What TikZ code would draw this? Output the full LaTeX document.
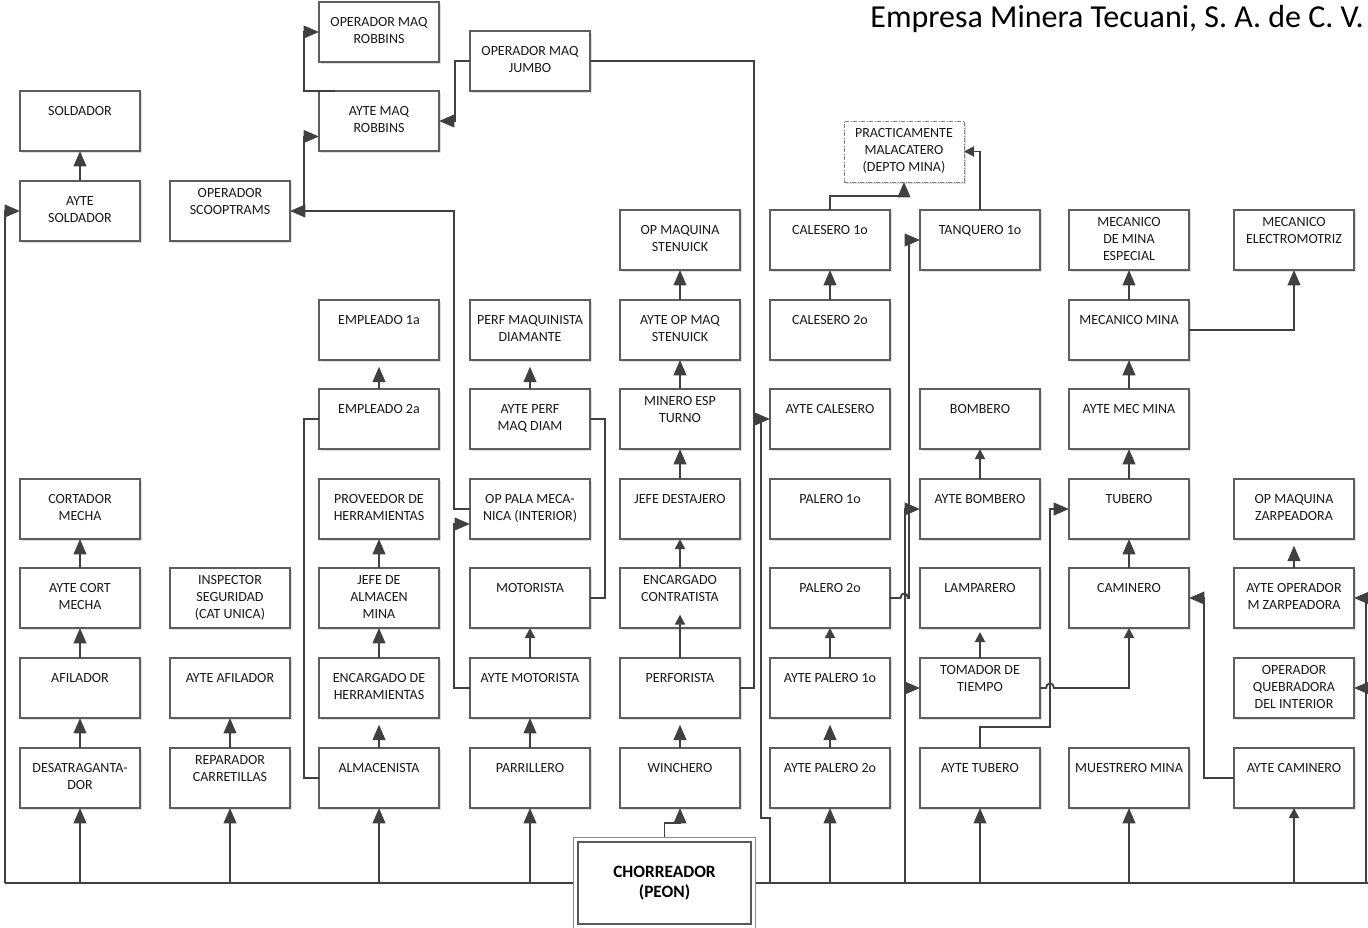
\documentclass[tikz,border=0pt]{standalone}
\usepackage{fontspec}
\setmainfont{Carlito}
\usetikzlibrary{arrows.meta,shadows,calc}
\definecolor{ln}{HTML}{404040}
\definecolor{bd}{HTML}{5E5E5E}
% text layouts inside the job boxes
\newcommand\Lone[1]{\strut #1\\\strut}
\newcommand\Ltwo[2]{\strut #1\\\strut #2}
\newcommand\Ltwotop[2]{\strut #1\\\strut #2\\\strut}
\newcommand\Lthree[3]{\strut #1\\\strut #2\\\strut #3}
\begin{document}
\begin{tikzpicture}[x=0.75pt,y=-0.75pt,
  box/.style={draw=bd, line width=0.85pt, fill=white, minimum width=90pt, minimum height=45pt,
    inner sep=0pt, outer sep=0pt, align=center, anchor=north west,
    font=\fontsize{10.5}{12.75}\selectfont, text=black!90,
    drop shadow={shadow xshift=1.6pt, shadow yshift=-1.6pt, fill=black!13, opacity=1}},
  link/.style={draw=ln, line width=1.4pt},
  big/.style={link, -{Triangle[length=11.5pt,width=9.5pt]}},
  small/.style={link, -{Triangle[length=7.5pt,width=7.5pt]}},
  gap/.style={shorten >=5pt},
]
\useasboundingbox (0,0) rectangle (1368,928);

\node[anchor=base east, font=\fontsize{24}{28}\selectfont, text=black] (title) at (1368.5,27)
  {Empresa Minera Tecuani, S. A. de C. V.};

% ---- top group
\node[box] (opmaqrob)   at (319,2)   {\Ltwo{OPERADOR MAQ}{ROBBINS}};
\node[box] (aytemaqrob) at (319,91)  {\Ltwo{AYTE MAQ}{ROBBINS}};
\node[box] (jumbo)      at (470,31)  {\Ltwo{OPERADOR MAQ}{JUMBO}};
\node[box] (soldador)   at (20,91)   {\Lone{SOLDADOR}};
\node[box] (aytesold)   at (20,181)  {\Ltwo{AYTE}{SOLDADOR}};
\node[box] (scoop)      at (170,181) {\Ltwotop{OPERADOR}{SCOOPTRAMS}};
\node[box, draw=black!50, dash pattern=on 3pt off 1.2pt on 0.6pt off 1.2pt, line width=0.7pt,
      minimum height=45.75pt] (practic) at (844,121) {\Lthree{PRACTICAMENTE}{MALACATERO}{(DEPTO MINA)}};

% ---- row 1
\node[box] (opstenuick) at (620,210)  {\Ltwo{OP MAQUINA}{STENUICK}};
\node[box] (cal1)       at (770,210)  {\Lone{CALESERO 1o}};
\node[box] (tanq)       at (920,210)  {\Lone{TANQUERO 1o}};
\node[box] (mecesp)     at (1069,210) {\Lthree{MECANICO}{DE MINA}{ESPECIAL}};
\node[box] (mecelec)    at (1234,210) {\Ltwotop{MECANICO}{ELECTROMOTRIZ}};

% ---- row 2
\node[box] (emp1)     at (319,300)  {\Lone{EMPLEADO 1a}};
\node[box] (perfmaq)  at (470,300)  {\Ltwo{PERF MAQUINISTA}{DIAMANTE}};
\node[box] (ayteopst) at (620,300)  {\Ltwo{AYTE OP MAQ}{STENUICK}};
\node[box] (cal2)     at (770,300)  {\Lone{CALESERO 2o}};
\node[box] (mecmina)  at (1069,300) {\Lone{MECANICO MINA}};

% ---- row 3
\node[box] (emp2)     at (319,389)  {\Lone{EMPLEADO 2a}};
\node[box] (ayteperf) at (470,389)  {\Ltwo{AYTE PERF}{MAQ DIAM}};
\node[box] (minero)   at (620,389)  {\Ltwotop{MINERO ESP}{TURNO}};
\node[box] (aytecal)  at (770,389)  {\Lone{AYTE CALESERO}};
\node[box] (bombero)  at (920,389)  {\Lone{BOMBERO}};
\node[box] (aytemec)  at (1069,389) {\Lone{AYTE MEC MINA}};

% ---- row 4
\node[box] (cortador)  at (20,479)   {\Ltwo{CORTADOR}{MECHA}};
\node[box] (proveedor) at (319,479)  {\Ltwo{PROVEEDOR DE}{HERRAMIENTAS}};
\node[box] (oppala)    at (470,479)  {\Ltwo{OP PALA MECA-}{NICA (INTERIOR)}};
\node[box] (jefedest)  at (620,479)  {\Lone{JEFE DESTAJERO}};
\node[box] (palero1)   at (770,479)  {\Lone{PALERO 1o}};
\node[box] (aytebomb)  at (920,479)  {\Lone{AYTE BOMBERO}};
\node[box] (tubero)    at (1069,479) {\Lone{TUBERO}};
\node[box] (opzarp)    at (1234,479) {\Ltwo{OP MAQUINA}{ZARPEADORA}};

% ---- row 5
\node[box] (aytecort)   at (20,568)   {\Ltwo{AYTE CORT}{MECHA}};
\node[box] (inspector)  at (170,568)  {\Lthree{INSPECTOR}{SEGURIDAD}{(CAT UNICA)}};
\node[box] (jefealm)    at (319,568)  {\Lthree{JEFE DE}{ALMACEN}{MINA}};
\node[box] (motorista)  at (470,568)  {\Lone{MOTORISTA}};
\node[box] (enccontr)   at (620,568)  {\Ltwotop{ENCARGADO}{CONTRATISTA}};
\node[box] (palero2)    at (770,568)  {\Lone{PALERO 2o}};
\node[box] (lamparero)  at (920,568)  {\Lone{LAMPARERO}};
\node[box] (caminero)   at (1069,568) {\Lone{CAMINERO}};
\node[box] (ayteopzarp) at (1234,568) {\Ltwo{AYTE OPERADOR}{M ZARPEADORA}};

% ---- row 6
\node[box] (afilador)   at (20,658)   {\Lone{AFILADOR}};
\node[box] (ayteafil)   at (170,658)  {\Lone{AYTE AFILADOR}};
\node[box] (encherr)    at (319,658)  {\Ltwo{ENCARGADO DE}{HERRAMIENTAS}};
\node[box] (aytemoto)   at (470,658)  {\Lone{AYTE MOTORISTA}};
\node[box] (perforista) at (620,658)  {\Lone{PERFORISTA}};
\node[box] (aytepal1)   at (770,658)  {\Lone{AYTE PALERO 1o}};
\node[box] (tomador)    at (920,658)  {\Ltwotop{TOMADOR DE}{TIEMPO}};
\node[box] (quebradora) at (1234,658) {\Lthree{OPERADOR}{QUEBRADORA}{DEL INTERIOR}};

% ---- row 7
\node[box] (desatr)      at (20,748)   {\Ltwo{DESATRAGANTA-}{DOR}};
\node[box] (reparador)   at (170,748)  {\Ltwotop{REPARADOR}{CARRETILLAS}};
\node[box] (almacenista) at (319,748)  {\Lone{ALMACENISTA}};
\node[box] (parrillero)  at (470,748)  {\Lone{PARRILLERO}};
\node[box] (winchero)    at (620,748)  {\Lone{WINCHERO}};
\node[box] (aytepal2)    at (770,748)  {\Lone{AYTE PALERO 2o}};
\node[box] (aytetubero)  at (920,748)  {\Lone{AYTE TUBERO}};
\node[box] (muestrero)   at (1069,748) {\Lone{MUESTRERO MINA}};
\node[box] (aytecamin)   at (1234,748) {\Lone{AYTE CAMINERO}};

% ---- base position, framed by a double border
\node[draw=black!65, line width=0.9pt, fill=white,
      minimum width=129.75pt, minimum height=61.5pt, inner sep=0pt, align=center,
      font=\fontsize{13}{15}\selectfont\bfseries] (chorreador) at (664.5,883) {CHORREADOR\\(PEON)};
\draw[black!45, line width=0.75pt] ($(chorreador.north west)+(-4,-4)$) rectangle ($(chorreador.south east)+(4,3.5)$);

% ---- bus along the bottom
\coordinate (bw) at (5,883);
\coordinate (be) at (1368,883);
\coordinate (b6) at (770,883);
\coordinate (b7) at (905,883);
\coordinate (rx) at (1366,883);
\draw[link] ($(chorreador.west)+(-4,0)$) -- (bw);
\draw[link, line width=2.1pt] ($(chorreador.east)+(4,0)$) -- (be);

\draw[big] (bw) |- (aytesold.west);
\draw[big] (desatr.south |- bw) -- (desatr.south);
\draw[big] (reparador.south |- bw) -- (reparador.south);
\draw[big] (almacenista.south |- bw) -- (almacenista.south);
\draw[big] (parrillero.south |- bw) -- (parrillero.south);
\draw[big] (b6) -- (770,818) -- (761,818) |- (aytecal.west);
\draw[big] (aytepal2.south |- bw) -- (aytepal2.south);
\draw[big] (b7) |- (aytebomb.west);
\draw[big] (tomador.west -| b7) -- (tomador.west);
\draw[big] (aytetubero.south |- bw) -- (aytetubero.south);
\draw[big] (muestrero.south |- bw) -- (muestrero.south);
\draw[small] (aytecamin.south |- bw) -- (aytecamin.south);
\draw[big] (rx) |- (ayteopzarp.east);
\draw[big] (quebradora.east -| rx) -- (quebradora.east);
\draw[big] ($(chorreador.north)+(0,-4)$) |- (680,823) -- (winchero.south);

% ---- column 1
\draw[big] (aytesold.north) -- (soldador.south);
\draw[big] (aytecort.north) -- (cortador.south);
\draw[big] (afilador.north) -- (aytecort.south);
\draw[big] (desatr.north) -- (afilador.south);
% ---- column 2
\draw[big] (reparador.north) -- (ayteafil.south);
% ---- column 3
\draw[big, gap] (almacenista.north) -- (encherr.south);
\draw[big] (encherr.north) -- (jefealm.south);
\draw[big] (jefealm.north) -- (proveedor.south);
\draw[big, gap] (emp2.north) -- (emp1.south);
\draw[link] (almacenista.west) -- (304,778) |- (emp2.west);
% ---- column 4
\draw[big] (parrillero.north) -- (aytemoto.south);
\draw[small] (aytemoto.north) -- (motorista.south);
\draw[big, gap] (ayteperf.north) -- (perfmaq.south);
\draw[link] (motorista.east) -- (605,598) |- (ayteperf.east);
\draw[big] (aytemoto.west) -- (454,688) |- ($(oppala.west)+(0,15)$);
\draw[big] (oppala.west) -- (454,509) |- (scoop.east);
\coordinate (sq) at (304,211);
\draw[big] (sq) |- ($(aytemaqrob.west)+(0,15.5)$);
\draw[big] ($(aytemaqrob.north west)+(16,0)$) -- (304,91) |- (opmaqrob.west);
\draw[big] (jumbo.west) -- (455,61) |- (aytemaqrob.east);
% ---- column 5
\draw[big, gap] (winchero.north) -- (perforista.south);
\draw[small, shorten >=-10pt] (perforista.north) -- (enccontr.south);
\draw[small] (enccontr.north) -- (jefedest.south);
\draw[big] (jefedest.north) -- (minero.south);
\draw[big] (minero.north) -- (ayteopst.south);
\draw[big] (ayteopst.north) -- (opstenuick.south);
\draw[link] (perforista.east) -- (754,688) |- (jumbo.east);
% ---- column 6
\draw[big, gap] (aytepal2.north) -- (aytepal1.south);
\draw[small] (aytepal1.north) -- (palero2.south);
\draw[big] (cal2.north) -- (cal1.south);
\draw[big] (cal1.north) |- ($(practic.south)+(0,14)$) -- (practic.south);
\draw[link, -{Triangle[length=11.5pt,width=9.5pt]}] (palero2.east) -- (900.5,598)
  .. controls (900.5,592) and (908,592) .. (908,598) -- (909,598) |- (tanq.west);
% ---- column 7
\draw[small] (aytebomb.north) -- (bombero.south);
\draw[small, shorten >=3pt] (tomador.north) -- (lamparero.south);
\draw[small] (tanq.north) |- (practic.east);
\draw[small] (tomador.east) -- (1046,688) .. controls (1046,682) and (1054,682) .. (1054,688) -| (caminero.south);
\draw[big] (aytetubero.north) |- (1050,727) |- (tubero.west);
% ---- column 8
\draw[big] (caminero.north) -- (tubero.south);
\draw[big] (tubero.north) -- (aytemec.south);
\draw[big] (aytemec.north) -- (mecmina.south);
\draw[big] (mecmina.north) -- (mecesp.south);
\draw[big] (mecmina.east) -| (mecelec.south);
\draw[big] (aytecamin.west) -- (1204,778) |- (caminero.east);
% ---- column 9
\draw[big, gap] (ayteopzarp.north) -- (opzarp.south);
\end{tikzpicture}
\end{document}
